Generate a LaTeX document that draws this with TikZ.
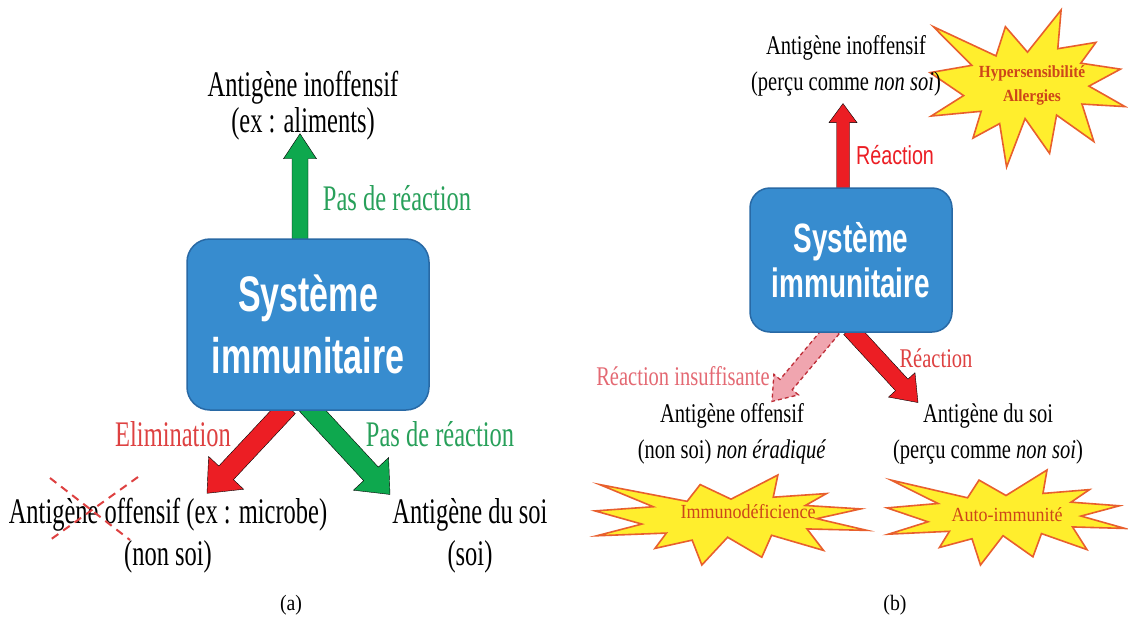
\documentclass[tikz,border=0pt]{standalone}
\usepackage{fontspec}
\newfontfamily\labfont{Liberation Serif}[FakeStretch=0.68]
\newfontfamily\labfontb{Liberation Serif}[FakeStretch=0.76]
\newfontfamily\starfont{Liberation Serif}[FakeStretch=0.9]
\newfontfamily\boxfont{Liberation Sans}[FakeStretch=0.68]
\newfontfamily\reacfont{Liberation Sans}[FakeStretch=0.76]
\usetikzlibrary{calc,backgrounds}

\definecolor{sysblue}{RGB}{55,140,207}
\definecolor{sysedge}{RGB}{40,105,165}
\definecolor{okgreen}{RGB}{14,168,78}
\definecolor{okgreentext}{RGB}{40,160,90}
\definecolor{badred}{RGB}{236,30,36}
\definecolor{badredtext}{RGB}{222,65,65}
\definecolor{weakpink}{RGB}{240,165,175}
\definecolor{weakedge}{RGB}{190,45,55}
\definecolor{weaktext}{RGB}{228,105,115}
\definecolor{burstfill}{RGB}{255,238,45}
\definecolor{burstedge}{RGB}{232,95,45}
\definecolor{bursttext}{RGB}{205,70,25}

% block arrow: style, from, to, half shaft, half head, head length
\newcommand\blockarrow[6]{%
  \path (#2) coordinate (ba-s) (#3) coordinate (ba-t);
  \path ($(ba-t)!#6!(ba-s)$) coordinate (ba-b);
  \draw[#1] ($(ba-s)!#4!90:(ba-t)$) -- ($(ba-b)!#4!90:(ba-t)$) -- ($(ba-b)!#5!90:(ba-t)$)
    -- (ba-t) -- ($(ba-b)!#5!-90:(ba-t)$) -- ($(ba-b)!#4!-90:(ba-t)$) -- ($(ba-s)!#4!-90:(ba-t)$) -- cycle;
}
% explosion shape: style, x, y, width, height
\newcommand\explosion[5]{%
  \begin{scope}[shift={(#2,#3)},xscale=#4/216,yscale=#5/216]
    \draw[#1] (108,58) -- (145.22,0) -- (141.55,53.25) -- (183.80,44.57) -- (167.02,73.15)
      -- (210.97,81.37) -- (176.07,104.75) -- (216,132.90) -- (168.37,129.42) -- (181.45,180.95)
      -- (140.20,144.57) -- (132.47,197.37) -- (105.32,149.35) -- (84.85,216) -- (77.15,156.27)
      -- (47.62,176.17) -- (56.67,139.37) -- (1.35,145.87) -- (37.22,117.75) -- (0,86.15)
      -- (46.27,76.17) -- (3.70,22.95) -- (73.12,63.20) -- (83.52,22.95) -- cycle;
  \end{scope}}

\begin{document}
\begin{tikzpicture}[x=1pt,y=-1pt,
    sysbox/.style={draw=sysedge,fill=sysblue,line width=1.5pt,text=white,align=center,inner sep=0pt},
    lbla/.style={font=\labfont\fontsize{36}{42}\selectfont,align=center,inner sep=0pt},
    lblb/.style={font=\labfontb\fontsize{27}{36}\selectfont,align=center,inner sep=0pt},
    burst/.style={fill=burstfill,draw=burstedge,line width=1.6pt},
    burstlbl/.style={font=\starfont\fontsize{20}{24}\selectfont,text=bursttext,align=center,inner sep=0pt},
    goarrow/.style={fill=okgreen},
    hitarrow/.style={fill=badred},
    weakarrow/.style={fill=weakpink,draw=weakedge,line width=1.3pt,dash pattern=on 4pt off 3pt},
    strike/.style={draw=badredtext,line width=2pt,dash pattern=on 8pt off 6pt},
    caption/.style={font=\starfont\fontsize{22}{22}\selectfont,inner sep=0pt}
    ]
    \useasboundingbox (0,0) rectangle (1128,619);

    % (a) tolerance
    \node[sysbox,minimum width=242,minimum height=171,rounded corners=23,
          font=\boxfont\bfseries\fontsize{50}{62}\selectfont] (boxA) at (308,324.5) {Système\\immunitaire};
    \node[lbla,font=\labfont\fontsize{36}{36}\selectfont] (inoffA) at (303,106) {Antigène inoffensif\\(ex : aliments)};
    \node[lbla,text=okgreentext] (noreacA) at (397,198) {Pas de réaction};
    \node[lbla,text=badredtext] (elimA) at (173,434) {Elimination};
    \node[lbla,text=okgreentext] (noreacA2) at (440,434) {Pas de réaction};
    \node[lbla] (offA) at (168,536) {Antigène offensif (ex : microbe)\\(non soi)};
    \node[lbla] (soiA) at (470,536) {Antigène du soi\\(soi)};
    \node[caption] (capA) at (291,605) {(a)};
    \draw[strike] (50,478) -- (130,540);
    \draw[strike] (138,477) -- (50,540);

    % (b) dysfunctions
    \explosion{burst}{930}{10}{195}{157}
    \explosion{burst}{595}{475}{272}{90}
    \explosion{burst}{887}{470}{238}{95}
    \node[sysbox,minimum width=202,minimum height=144,rounded corners=20,
          font=\boxfont\bfseries\fontsize{41}{45}\selectfont] (boxB) at (851,260) {Système\\immunitaire};
    \node[lblb] (inoffB) at (846,66) {Antigène inoffensif\\(perçu comme \textit{non soi})};
    \node[font=\reacfont\fontsize{26}{26}\selectfont,text=badred,inner sep=0pt] (reacUp) at (895,155) {Réaction};
    \node[lblb,text=weaktext] (insufB) at (683,376) {Réaction insuffisante};
    \node[lblb,text=badredtext] (reacB) at (936,358) {Réaction};
    \node[lblb] (offB) at (732,434) {Antigène offensif\\(non soi) \textit{non éradiqué}};
    \node[lblb] (soiB) at (988,434) {Antigène du soi\\(perçu comme \textit{non soi})};
    \node[burstlbl,font=\starfont\bfseries\fontsize{17}{24}\selectfont] (hyper) at (1032,85) {Hypersensibilité\\Allergies};
    \node[burstlbl] (immuno) at (748,512) {Immunodéficience};
    \node[burstlbl] (autoimm) at (1007,515) {Auto-immunité};
    \node[caption] (capB) at (895,605) {(b)};

    \begin{scope}[on background layer]
        \fill[white] (0,0) rectangle (1128,619);
        \blockarrow{goarrow}{$(boxA.north)+(-8,6)$}{$(inoffA.south)+(-3,-7)$}{8pt}{16.5pt}{25pt}
        \blockarrow{hitarrow}{$(boxA.south)+(-20,-4)$}{$(offA.north)+(39,-5)$}{10pt}{24pt}{28pt}
        \blockarrow{goarrow}{$(boxA.south)+(-1,-6)$}{$(soiA.north)+(-80,-4)$}{10pt}{24pt}{28pt}
        \blockarrow{hitarrow}{$(boxB.north)+(-8,6)$}{$(inoffB.south)+(-3,7)$}{6.5pt}{14pt}{19pt}
        \blockarrow{weakarrow}{$(boxB.south)+(-18,-4)$}{$(offB.north)+(40,-2)$}{8pt}{16pt}{22pt}
        \blockarrow{hitarrow}{$(boxB.south)+(-1,-4)$}{$(soiB.north)+(-70,-1)$}{8.5pt}{18pt}{24pt}
    \end{scope}
\end{tikzpicture}
\end{document}
